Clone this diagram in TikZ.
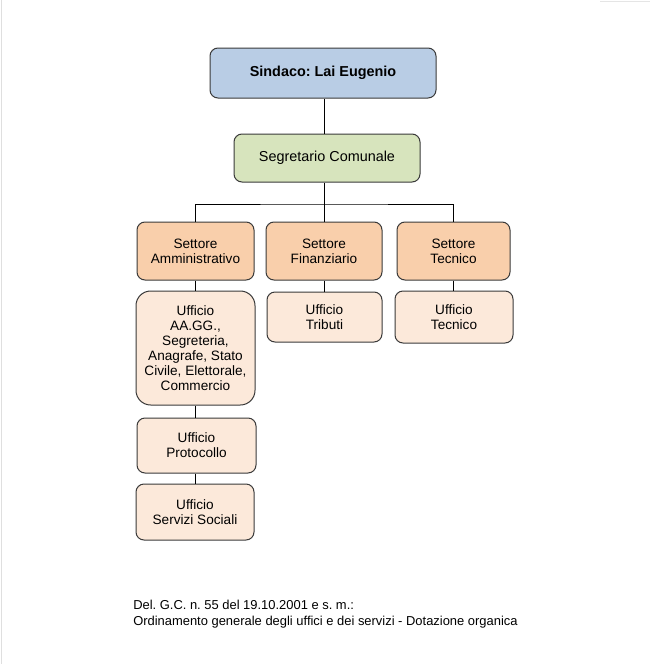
\documentclass[tikz,border=0pt]{standalone}
\usepackage{fontspec}
\setmainfont{Liberation Sans}
\frenchspacing
\definecolor{sindblue}{HTML}{B9CDE5}
\definecolor{seggreen}{HTML}{D7E4BD}
\definecolor{setpeach}{HTML}{F9CFAB}
\definecolor{uffpeach}{HTML}{FCE9DA}
\definecolor{edgegray}{HTML}{3A3A3A}
\begin{document}
\begin{tikzpicture}[x=0.75pt,y=-0.75pt,
  box/.style={draw=edgegray, line width=0.75pt, rounded corners=6pt, align=center,
    inner sep=0pt, font=\fontsize{10.2}{11.25}\selectfont},
  sindbox/.style={box, fill=sindblue, font=\fontsize{10.8}{12}\selectfont\bfseries},
  segbox/.style={box, fill=seggreen, font=\fontsize{10.8}{12}\selectfont},
  setbox/.style={box, fill=setpeach},
  uffbox/.style={box, fill=uffpeach},
  notetext/.style={anchor=base west, inner sep=0pt, font=\fontsize{9.7}{11}\selectfont},
  link/.style={draw=black, line width=0.75pt}]
\useasboundingbox (0,0) rectangle (650,664);
\fill[white] (0,0) rectangle (650,664);
\draw[gray!25, line width=0.75pt] (1,0) -- (1,664);
\draw[gray!20, line width=0.6pt] (600,1) -- (650,1);

\node[sindbox, minimum width=169.5pt, minimum height=37.5pt] (sind) at (323,73) {Sindaco: Lai Eugenio};
\node[segbox, minimum width=139.5pt, minimum height=36pt] (seg) at (327,158) {Segretario Comunale};

\node[setbox, minimum width=87.75pt, minimum height=43.5pt] (sa) at (195.5,251) {Settore\\Amministrativo};
\node[setbox, minimum width=87pt, minimum height=43.5pt] (sf) at (324,251) {Settore\\Finanziario};
\node[setbox, minimum width=84.75pt, minimum height=43.5pt] (st) at (453.5,251) {Settore\\Tecnico};

\node[uffbox, rounded corners=11pt, minimum width=89.25pt, minimum height=85.5pt] (uaa) at (195.5,348) {Ufficio\\AA.GG.,\\Segreteria,\\Anagrafe, Stato\\Civile, Elettorale,\\Commercio};
\node[uffbox, minimum width=86.25pt, minimum height=37.5pt] (utr) at (324.5,317) {Ufficio\\Tributi};
\node[uffbox, minimum width=88.5pt, minimum height=39pt] (ute) at (454,317) {Ufficio\\Tecnico};
\node[uffbox, minimum width=89.25pt, minimum height=41.25pt] (upr) at (196.5,445.5) {Ufficio\\Protocollo};
\node[uffbox, minimum width=88.5pt, minimum height=42pt] (uss) at (195,512) {Ufficio\\Servizi Sociali};

\coordinate (bus) at (324,204);
\path[link] (sind.south -| 324,0) -- (seg.north -| 324,0);
\path[link] (seg.south -| bus) -- (bus);
\path[link] (sa.north) |- (bus) -| (st.north);
\path[link] (sf.north) -- (sf.north |- bus);
\path[link] (sa.south) -- (uaa.north -| sa.south);
\path[link] (sf.south) -- (utr.north -| sf.south);
\path[link] (st.south) -- (ute.north -| st.south);
\path[link] (uaa.south) -- (upr.north -| uaa.south);
\path[link] (upr.south -| uaa.south) -- (uss.north -| uaa.south);

\node[notetext] (n1) at (133,609) {Del. G.C. n. 55 del 19.10.2001 e s. m.:};
\node[notetext] (n2) at (133,625) {Ordinamento generale degli uffici e dei servizi - Dotazione organica};
\end{tikzpicture}
\end{document}
